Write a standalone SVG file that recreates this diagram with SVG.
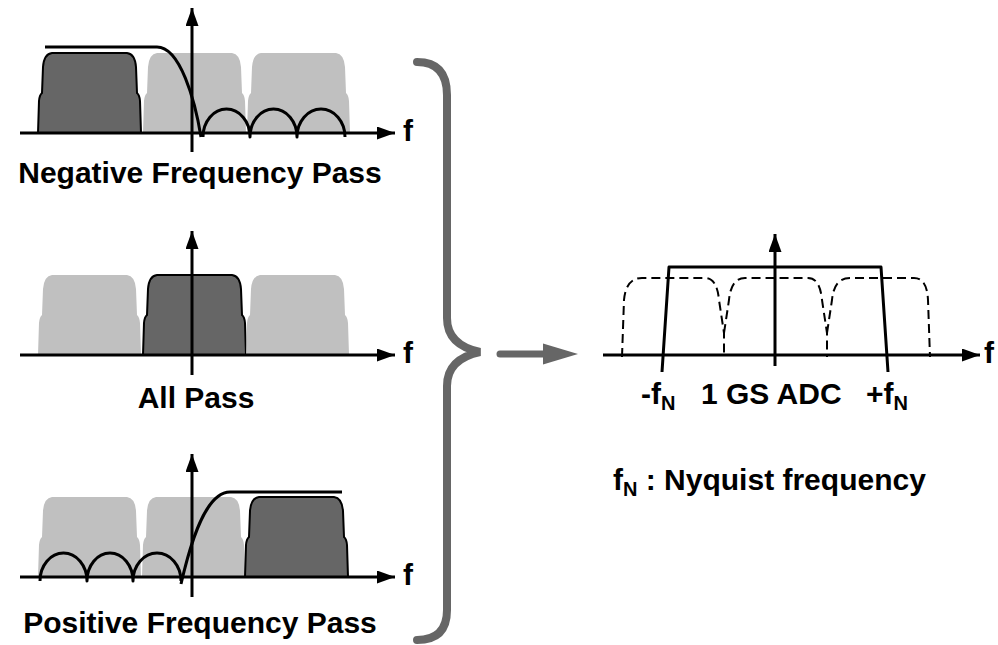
<svg xmlns="http://www.w3.org/2000/svg" xmlns:xlink="http://www.w3.org/1999/xlink" width="998" height="645" viewBox="0 0 998 645">
  <style>
    text { font-family: "Liberation Sans", Arial, sans-serif; font-weight: bold; font-size: 30px; fill: #000; }
    .sub { font-size: 20px; }
    .axis { stroke: #000; stroke-width: 3; fill: none; }
    .curve { stroke: #000; stroke-width: 3; fill: none; stroke-linejoin: round; }
    .light { fill: #c0c0c0; }
    .dark { fill: #666; stroke: #000; stroke-width: 2; }
    .dash { stroke: #000; stroke-width: 2; fill: none; stroke-dasharray: 9 5; }
    .gray { stroke: #666; fill: none; }
  </style>
  <defs>
    <marker id="head" markerUnits="userSpaceOnUse" markerWidth="18" markerHeight="13" refX="18" refY="6.5" orient="auto">
      <path d="M0,0 L18,6.5 L0,13 Z" fill="#000"/>
    </marker>
    <!-- spectral band, bottom-left corner at origin -->
    <path id="band" d="M0,0 L1,-32 Q1.5,-38 4,-40 L5,-66 Q6,-79 14,-80 L89,-80 Q97,-79 98,-66 L99,-40 Q101.5,-38 102,-32 L103,0 Z"/>
  </defs>

  <!-- top: negative frequency pass -->
  <g id="neg-pass">
    <use xlink:href="#band" class="dark" x="38" y="133"/>
    <use xlink:href="#band" class="light" x="143" y="133"/>
    <use xlink:href="#band" class="light" x="247" y="133"/>
    <path class="curve" d="M45,47 L157,47 C180,47 195,100 201,137"/>
    <path class="curve" d="M203,137 A23.5,28 0 0 1 250,137 A23.5,28 0 0 1 297,137 A24,28 0 0 1 345,137"/>
    <line class="axis" x1="20" y1="133" x2="395" y2="133" marker-end="url(#head)"/>
    <line class="axis" x1="192" y1="152" x2="192" y2="8" marker-end="url(#head)"/>
    <text x="403" y="141">f</text>
    <text x="200" y="183" text-anchor="middle">Negative Frequency Pass</text>
  </g>

  <!-- middle: all pass -->
  <g id="all-pass">
    <use xlink:href="#band" class="light" x="38" y="355"/>
    <use xlink:href="#band" class="dark" x="143" y="355"/>
    <use xlink:href="#band" class="light" x="246" y="355"/>
    <line class="axis" x1="20" y1="355" x2="395" y2="355" marker-end="url(#head)"/>
    <line class="axis" x1="192" y1="375" x2="192" y2="231" marker-end="url(#head)"/>
    <text x="403" y="363">f</text>
    <text x="196" y="408" text-anchor="middle">All Pass</text>
  </g>

  <!-- bottom: positive frequency pass -->
  <g id="pos-pass">
    <use xlink:href="#band" class="light" x="38" y="577"/>
    <use xlink:href="#band" class="light" x="142" y="577"/>
    <use xlink:href="#band" class="dark" x="245" y="577"/>
    <path class="curve" d="M181,584 C190,545 205,492 230,492 L342,492"/>
    <path class="curve" d="M40,581 A23.5,28 0 0 1 87,581 A23,28 0 0 1 133,581 A24,28 0 0 1 181,581"/>
    <line class="axis" x1="20" y1="577" x2="395" y2="577" marker-end="url(#head)"/>
    <line class="axis" x1="192" y1="597" x2="192" y2="454" marker-end="url(#head)"/>
    <text x="403" y="585">f</text>
    <text x="200" y="633" text-anchor="middle">Positive Frequency Pass</text>
  </g>

  <!-- brace and arrow -->
  <g id="combine">
    <path class="gray" stroke-width="8" stroke-linecap="round" d="M417,62 Q447,62 447,95 L447,318 Q447,345 480,352 Q447,359 447,386 L447,610 Q447,640 417,640"/>
    <line class="gray" stroke-width="7" stroke-linecap="round" x1="500" y1="354" x2="548" y2="354"/>
    <path d="M543,343.5 L578,354 L543,364.5 Z" fill="#666"/>
  </g>

  <!-- right: ADC band -->
  <g id="adc">
    <path class="dash" d="M622,357 L624,300 Q626,278 642,278 L705,278 Q717,278 719,300 L724,333 L724,357"/>
    <path class="dash" d="M724,333 L729,300 Q731,278 745,278 L808,278 Q820,278 822,300 L827,333 L827,357"/>
    <path class="dash" d="M827,333 L832,300 Q834,278 850,278 L914,278 Q927,278 928,300 L930,357"/>
    <path class="curve" d="M662,372 L669,267 L881,267 L888,372"/>
    <line class="axis" x1="603" y1="355" x2="980" y2="355" marker-end="url(#head)"/>
    <line class="axis" x1="775" y1="366" x2="775" y2="234" marker-end="url(#head)"/>
    <text x="984" y="363">f</text>
    <text x="641" y="404">-f<tspan class="sub" dy="6">N</tspan></text>
    <text x="701" y="404">1 GS ADC</text>
    <text x="866" y="404">+f<tspan class="sub" dy="6">N</tspan></text>
    <text x="613" y="490">f<tspan class="sub" dy="6">N</tspan><tspan dy="-6"> : Nyquist frequency</tspan></text>
  </g>
</svg>
